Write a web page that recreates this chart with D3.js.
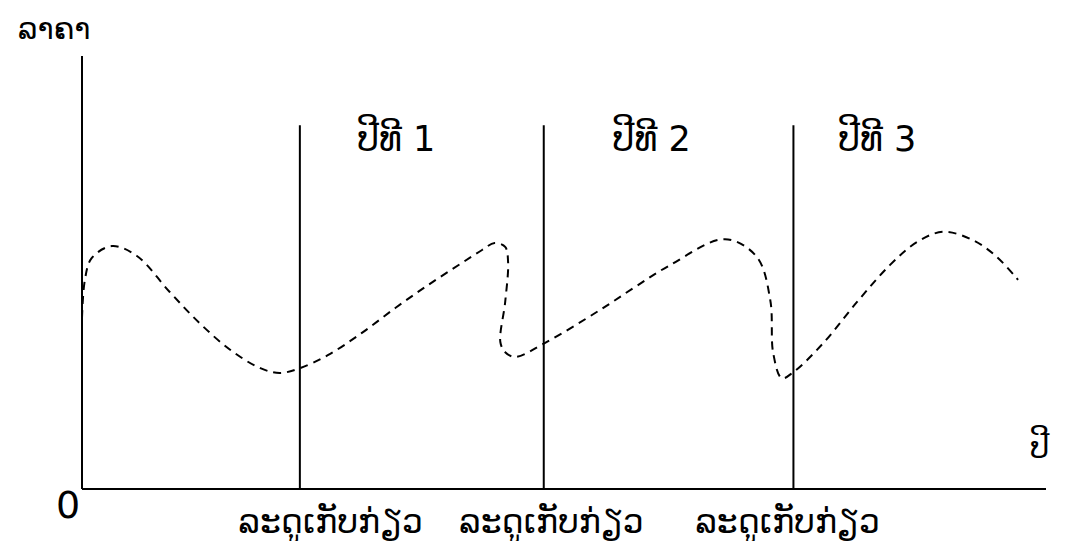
<!DOCTYPE html>
<html>
<head>
<meta charset="utf-8">
<script src="https://cdn.jsdelivr.net/npm/d3@7"></script>
<style>
  body { margin: 0; background: #fff; }
  text { font-family: "DejaVu Sans", sans-serif; fill: #000; }
</style>
</head>
<body>
<svg id="chart" width="1066" height="541"></svg>
<script>
// price curve over time (both in arbitrary 0-100 units)
var time  = [0, 0.3, 1.0, 3.1, 5.7, 9.1, 12.2, 15.4, 18.5, 20.5, 22.6, 25.5, 29.0, 32.5, 35.9, 39.4, 41.5, 42.8, 43.9, 44.2, 43.9, 43.4, 43.9, 44.9, 48.0, 53.7, 57.4, 61.0, 66.7, 70.0, 71.4, 71.7, 72.6, 73.8, 76.9, 80.4, 83.8, 86.6, 89.3, 92.4, 94.9, 97.1];
var price = [39.5, 48.3, 53.3, 56.1, 53.8, 45.5, 38.3, 32.1, 27.9, 26.8, 27.9, 30.9, 36.0, 41.8, 47.1, 52.2, 55.2, 56.8, 55.9, 52.4, 43.2, 33.9, 31.6, 30.5, 33.7, 41.3, 46.7, 51.7, 57.7, 53.6, 43.6, 31.4, 25.6, 27.0, 33.7, 43.2, 51.7, 57.0, 59.4, 57.5, 53.6, 48.3];

// harvest seasons
var harvestTime = [22.6, 47.9, 73.8];
var harvestTop = 84;
var harvestLabels = ["ລະດູເກັບກ່ຽວ", "ລະດູເກັບກ່ຽວ", "ລະດູເກັບກ່ຽວ"];
var harvestLabelTime = [25.8, 48.7, 73.2];

// year labels
var yearLabels = ["ປີທີ 1", "ປີທີ 2", "ປີທີ 3"];
var yearLabelTime = [32.6, 59.1, 82.5];

var yTitle = "ລາຄາ";
var xTitle = "ປີ";
var zeroLabel = "0";

var svg = d3.select("#chart");

var x = d3.scaleLinear().domain([0, 100]).range([82, 1046]);
var y = d3.scaleLinear().domain([0, 100]).range([489, 56]);

// axes (plain lines, no ticks)
svg.append("line")
    .attr("x1", x(0)).attr("y1", y(0))
    .attr("x2", x(0)).attr("y2", y(100))
    .attr("stroke", "#000").attr("stroke-width", 2);
svg.append("line")
    .attr("x1", x(0)).attr("y1", y(0))
    .attr("x2", x(100)).attr("y2", y(0))
    .attr("stroke", "#000").attr("stroke-width", 2);

// harvest lines
svg.selectAll(".harvest")
    .data(harvestTime)
  .enter().append("line")
    .attr("class", "harvest")
    .attr("x1", function(d) { return x(d); })
    .attr("x2", function(d) { return x(d); })
    .attr("y1", y(0))
    .attr("y2", y(harvestTop))
    .attr("stroke", "#000").attr("stroke-width", 2);

// dashed price curve
var pts = time.map(function(t, i) { return [t, price[i]]; });
var line = d3.line()
    .x(function(d) { return x(d[0]); })
    .y(function(d) { return y(d[1]); })
    .curve(d3.curveCatmullRom.alpha(0.5));

svg.append("path")
    .attr("d", line(pts))
    .attr("fill", "none")
    .attr("stroke", "#000")
    .attr("stroke-width", 2)
    .attr("stroke-dasharray", "8,6");

// labels
svg.selectAll(".year")
    .data(yearLabels)
  .enter().append("text")
    .attr("class", "year")
    .attr("x", function(d, i) { return x(yearLabelTime[i]); })
    .attr("y", 151)
    .attr("text-anchor", "middle")
    .style("font-size", "35px")
    .text(function(d) { return d; });

svg.selectAll(".hlabel")
    .data(harvestLabels)
  .enter().append("text")
    .attr("class", "hlabel")
    .attr("x", function(d, i) { return x(harvestLabelTime[i]); })
    .attr("y", 533)
    .attr("text-anchor", "middle")
    .style("font-size", "33px")
    .text(function(d) { return d; });

svg.append("text")
    .attr("x", 18).attr("y", 39)
    .style("font-size", "30px")
    .text(yTitle);

svg.append("text")
    .attr("x", 1030).attr("y", 458)
    .style("font-size", "31px")
    .text(xTitle);

svg.append("text")
    .attr("x", 56).attr("y", 518)
    .style("font-size", "38px")
    .text(zeroLabel);
</script>
</body>
</html>
